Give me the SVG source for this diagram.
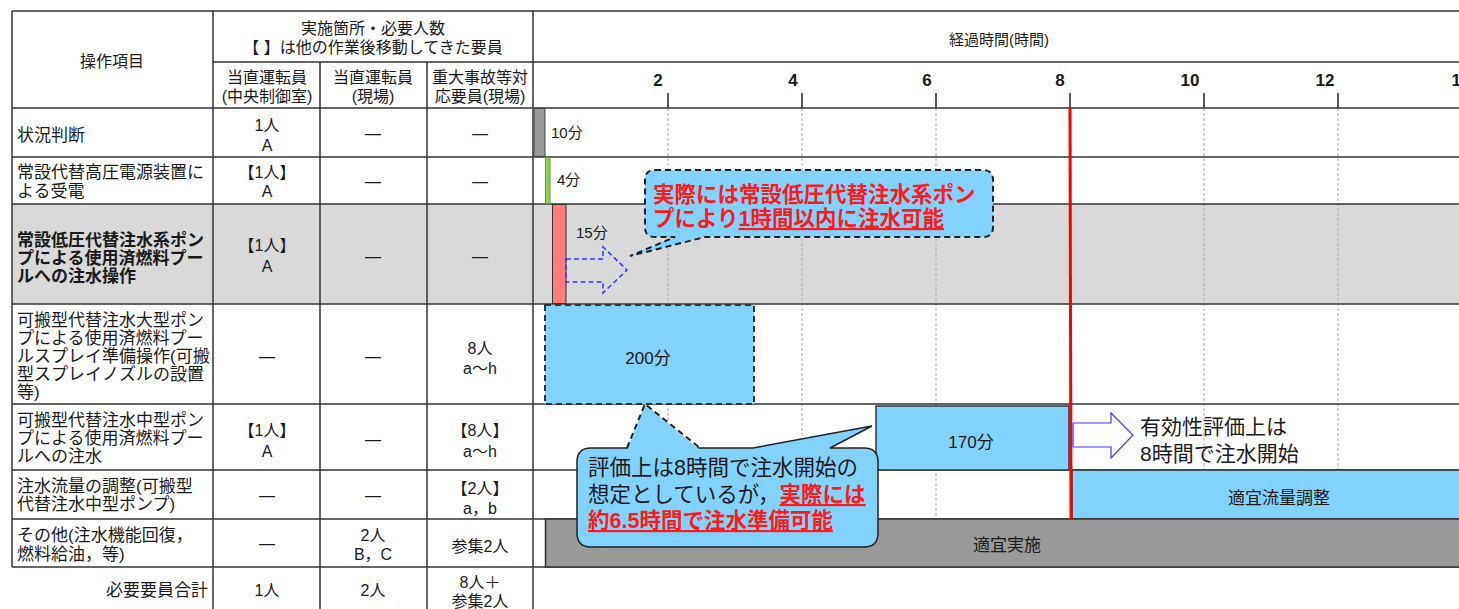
<svg xmlns="http://www.w3.org/2000/svg" width="1459" height="609" viewBox="0 0 1459 609">
<style>
  text { font-family: "Liberation Sans", "Noto Sans CJK JP", sans-serif; fill: #1a1a1a; }
  .hd { font-size: 16px; text-anchor: middle; }
  .lbl { font-size: 17px; }
  .lblb { font-size: 17px; font-weight: bold; }
  .cell { font-size: 16px; text-anchor: middle; }
  .tick { font-family: "Liberation Sans Narrow", "Liberation Sans", sans-serif; font-size: 17px; font-weight: bold; text-anchor: middle; }
  .bar { font-size: 15px; }
  .barc { font-size: 17px; text-anchor: middle; }
  .call { font-size: 21.5px; }
  .red { fill: #ff1a1a; font-weight: bold; }
  .ul { text-decoration: underline; }
  .grid { stroke: #333; stroke-width: 1.5; fill: none; }
  .dgrid { stroke: #aaa; stroke-width: 1; stroke-dasharray: 3 2; fill: none; }
  .blue { fill: #82d2ff; }
</style>

<!-- backgrounds -->
<rect x="0" y="0" width="1459" height="609" fill="#fff"/>
<rect x="12" y="204" width="1447" height="100" fill="#d9d9d9"/>

<!-- dashed hour gridlines -->
<g id="gridlines">
  <line class="dgrid" x1="668" y1="108" x2="668" y2="567"/>
  <line class="dgrid" x1="802" y1="108" x2="802" y2="567"/>
  <line class="dgrid" x1="936" y1="108" x2="936" y2="567"/>
  <line class="dgrid" x1="1204" y1="108" x2="1204" y2="567"/>
  <line class="dgrid" x1="1338" y1="108" x2="1338" y2="567"/>
</g>

<!-- table grid -->
<g id="table-grid">
  <line class="grid" x1="12" y1="11" x2="1459" y2="11"/>
  <line class="grid" x1="213" y1="62" x2="1459" y2="62"/>
  <line class="grid" x1="12" y1="108" x2="1459" y2="108"/>
  <line class="grid" x1="12" y1="157" x2="1459" y2="157"/>
  <line class="grid" x1="12" y1="204" x2="1459" y2="204"/>
  <line class="grid" x1="12" y1="304" x2="1459" y2="304"/>
  <line class="grid" x1="12" y1="404" x2="1459" y2="404"/>
  <line class="grid" x1="12" y1="470" x2="1459" y2="470"/>
  <line class="grid" x1="12" y1="519" x2="1459" y2="519"/>
  <line class="grid" x1="12" y1="567" x2="1459" y2="567"/>
  <line class="grid" x1="12" y1="11" x2="12" y2="567"/>
  <line class="grid" x1="213" y1="11" x2="213" y2="609"/>
  <line class="grid" x1="320" y1="62" x2="320" y2="609"/>
  <line class="grid" x1="427" y1="62" x2="427" y2="609"/>
  <line class="grid" x1="533" y1="11" x2="533" y2="609"/>
</g>

<!-- header -->
<g id="header">
  <text class="hd" x="112" y="67">操作項目</text>
  <text class="hd" x="373" y="34">実施箇所・必要人数</text>
  <text class="hd" x="373" y="53">【 】は他の作業後移動してきた要員</text>
  <text class="hd" x="267" y="83">当直運転員</text>
  <text class="hd" x="267" y="102">(中央制御室)</text>
  <text class="hd" x="373" y="83">当直運転員</text>
  <text class="hd" x="373" y="102">(現場)</text>
  <text class="hd" x="480" y="83">重大事故等対</text>
  <text class="hd" x="480" y="102">応要員(現場)</text>
  <text class="hd" x="999" y="45" style="font-size:15px">経過時間(時間)</text>
</g>

<!-- time axis -->
<g id="axis">
  <g stroke="#222" stroke-width="1.5">
    <line x1="668" y1="93" x2="668" y2="108"/>
    <line x1="802" y1="93" x2="802" y2="108"/>
    <line x1="936" y1="93" x2="936" y2="108"/>
    <line x1="1070" y1="93" x2="1070" y2="108"/>
    <line x1="1204" y1="93" x2="1204" y2="108"/>
    <line x1="1338" y1="93" x2="1338" y2="108"/>
  </g>
  <text class="tick" x="658" y="86">2</text>
  <text class="tick" x="793" y="86">4</text>
  <text class="tick" x="927" y="86">6</text>
  <text class="tick" x="1060" y="86">8</text>
  <text class="tick" x="1190" y="86">10</text>
  <text class="tick" x="1325" y="86">12</text>
  <text class="tick" x="1461" y="86">14</text>
</g>

<!-- row 1 -->
<g id="row1">
  <text class="lbl" x="17" y="141">状況判断</text>
  <text class="cell" x="267" y="131">1人</text>
  <text class="cell" x="267" y="151">A</text>
  <text class="cell" x="373" y="139">―</text>
  <text class="cell" x="480" y="139">―</text>
</g>
<!-- row 2 -->
<g id="row2">
  <text class="lbl" x="17" y="178">常設代替高圧電源装置に</text>
  <text class="lbl" x="17" y="197">よる受電</text>
  <text class="cell" x="267" y="178">【1人】</text>
  <text class="cell" x="267" y="197">A</text>
  <text class="cell" x="373" y="187">―</text>
  <text class="cell" x="480" y="187">―</text>
</g>
<!-- row 3 -->
<g id="row3">
  <text class="lblb" x="17" y="246">常設低圧代替注水系ポン</text>
  <text class="lblb" x="17" y="264">プによる使用済燃料プー</text>
  <text class="lblb" x="17" y="282">ルへの注水操作</text>
  <text class="cell" x="267" y="251">【1人】</text>
  <text class="cell" x="267" y="272">A</text>
  <text class="cell" x="373" y="262">―</text>
  <text class="cell" x="480" y="262">―</text>
</g>
<!-- row 4 -->
<g id="row4">
  <text class="lbl" x="17" y="326">可搬型代替注水大型ポン</text>
  <text class="lbl" x="17" y="344">プによる使用済燃料プー</text>
  <text class="lbl" x="17" y="362">ルスプレイ準備操作(可搬</text>
  <text class="lbl" x="17" y="380">型スプレイノズルの設置</text>
  <text class="lbl" x="17" y="398">等)</text>
  <text class="cell" x="267" y="362">―</text>
  <text class="cell" x="373" y="362">―</text>
  <text class="cell" x="480" y="354">8人</text>
  <text class="cell" x="480" y="374">a～h</text>
</g>
<!-- row 5 -->
<g id="row5">
  <text class="lbl" x="17" y="426">可搬型代替注水中型ポン</text>
  <text class="lbl" x="17" y="444">プによる使用済燃料プー</text>
  <text class="lbl" x="17" y="462">ルへの注水</text>
  <text class="cell" x="267" y="436">【1人】</text>
  <text class="cell" x="267" y="457">A</text>
  <text class="cell" x="373" y="445">―</text>
  <text class="cell" x="480" y="436">【8人】</text>
  <text class="cell" x="480" y="457">a～h</text>
</g>
<!-- row 6 -->
<g id="row6">
  <text class="lbl" x="17" y="492">注水流量の調整(可搬型</text>
  <text class="lbl" x="17" y="510">代替注水中型ポンプ)</text>
  <text class="cell" x="267" y="501">―</text>
  <text class="cell" x="373" y="501">―</text>
  <text class="cell" x="480" y="494">【2人】</text>
  <text class="cell" x="480" y="514">a，b</text>
</g>
<!-- row 7 -->
<g id="row7">
  <text class="lbl" x="17" y="541">その他(注水機能回復，</text>
  <text class="lbl" x="17" y="560">燃料給油，等)</text>
  <text class="cell" x="267" y="549">―</text>
  <text class="cell" x="373" y="541">2人</text>
  <text class="cell" x="373" y="560">B，C</text>
  <text class="cell" x="480" y="552">参集2人</text>
</g>
<!-- row 8 -->
<g id="row8">
  <text class="lbl" x="208" y="596" text-anchor="end">必要要員合計</text>
  <text class="cell" x="267" y="596">1人</text>
  <text class="cell" x="373" y="596">2人</text>
  <text class="cell" x="480" y="588">8人＋</text>
  <text class="cell" x="480" y="607">参集2人</text>
</g>

<!-- bars -->
<g id="bar-10min">
  <rect x="534" y="108.5" width="11" height="48" fill="#999" stroke="#444" stroke-width="1"/>
  <text class="bar" x="551" y="138">10分</text>
</g>
<g id="bar-4min">
  <rect x="545.5" y="157.5" width="4.5" height="46" fill="#92d050" stroke="#5f9a2a" stroke-width="1"/>
  <text class="bar" x="557" y="185">4分</text>
</g>
<g id="bar-15min">
  <rect x="552.5" y="204.5" width="13.5" height="99" fill="#ff7c80" stroke="#333" stroke-width="1"/>
  <text class="bar" x="576" y="238">15分</text>
</g>
<g id="bar-200min">
  <rect x="545" y="305" width="209" height="99" class="blue" stroke="#333" stroke-width="2" stroke-dasharray="6 4"/>
  <text class="barc" x="648" y="364">200分</text>
</g>
<g id="bar-170min">
  <rect x="876" y="406" width="193" height="64" class="blue" stroke="#333" stroke-width="1.5"/>
  <text class="barc" x="971" y="448">170分</text>
</g>
<g id="bar-flow">
  <rect x="1072" y="470" width="400" height="49" class="blue" stroke="#333" stroke-width="1.5"/>
  <text class="barc" x="1279" y="504">適宜流量調整</text>
</g>
<g id="bar-other">
  <rect x="545.5" y="519" width="920" height="48" fill="#999" stroke="#333" stroke-width="1.5"/>
  <text class="barc" x="1007" y="551">適宜実施</text>
</g>

<!-- connectors / arrows -->
<g id="connectors">
  <line x1="1070" y1="108" x2="1071" y2="519" stroke="#ff0000" stroke-width="3"/>
  <polygon points="1073,423 1111,423 1111,413 1133,435 1111,458 1111,447 1073,447" fill="#fff" stroke="#3a3aff" stroke-width="1.2"/>
  <polygon points="566,259 603,259 603,247 627,270 603,293 603,282 566,282" fill="none" stroke="#3535ff" stroke-width="1.5" stroke-dasharray="5 3"/>
</g>

<!-- note: 8h start -->
<g id="note-8h">
  <text class="call" x="1140" y="434" style="font-size:21px">有効性評価上は</text>
  <text class="call" x="1140" y="461" style="font-size:21px">8時間で注水開始</text>
</g>

<!-- callout 1 -->
<g id="callout1">
  <path d="M655,170 H983 Q993,170 993,180 V227 Q993,237 983,237 H705 L630,256 L675,237 H655 Q645,237 645,227 V180 Q645,170 655,170 Z" class="blue" stroke="#222" stroke-width="2" stroke-dasharray="6 4"/>
  <text class="call red" x="653" y="202">実際には常設低圧代替注水系ポン</text>
  <text class="call red" x="653" y="226">プにより<tspan class="ul">1時間以内に注水可能</tspan></text>
</g>

<!-- callout 2 -->
<g id="callout2">
  <path d="M591,448 H753 L872,426 L830,448 H864 Q878,448 878,462 V533 Q878,547 864,547 H591 Q577,547 577,533 V462 Q577,448 591,448 Z" class="blue" stroke="#222" stroke-width="1.5"/>
  <polygon points="627,450 645,404 700,450" class="blue"/>
  <polyline points="627,448 645,404 700,448" fill="none" stroke="#222" stroke-width="2" stroke-dasharray="6 4"/>
  <text class="call" x="588" y="475">評価上は8時間で注水開始の</text>
  <text class="call" x="588" y="502">想定としているが，<tspan class="red ul">実際には</tspan></text>
  <text class="call red ul" x="588" y="528">約6.5時間で注水準備可能</text>
</g>
</svg>
